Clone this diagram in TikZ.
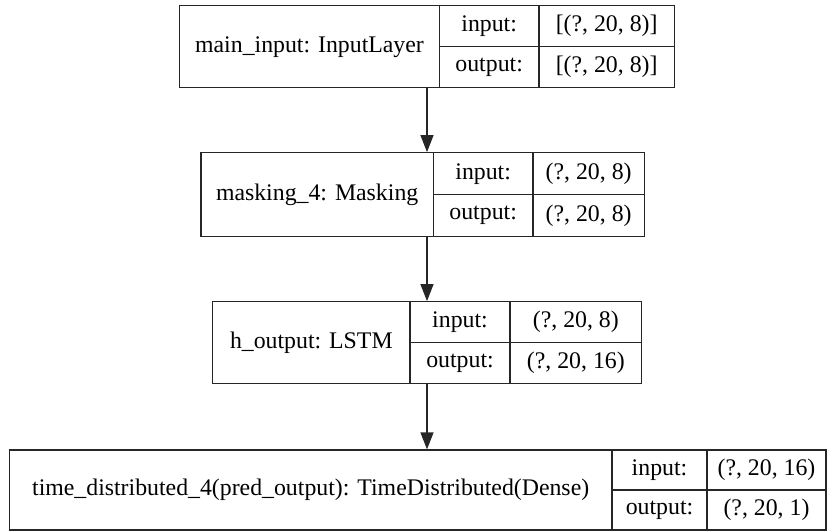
\documentclass[tikz,border=0pt]{standalone}
\usepackage{fontspec}
\setmainfont{Liberation Serif}
\usetikzlibrary{arrows.meta}
\begin{document}
\begin{tikzpicture}[x=1pt,y=-1pt,
  cell/.style={draw=black!85, line width=1.2pt, inner sep=0pt, font=\fontsize{23.8}{28}\selectfont},
  flow/.style={draw=black!85, line width=1.2pt, -{Triangle[length=17pt,width=13pt]}}]
\useasboundingbox (0,0) rectangle (836,531);
\coordinate (ax) at (427,0);

% main_input: InputLayer
\node[cell, minimum width=259.6pt, minimum height=82pt] (in) at (309.5,46.7) {main\_input: InputLayer};
\node[cell, minimum width=99.7pt, minimum height=41pt] (inI) at (489.15,26.2) {input:};
\node[cell, minimum width=135.3pt, minimum height=41pt] (inIv) at (606.65,26.2) {[(?, 20, 8)]};
\node[cell, minimum width=99.7pt, minimum height=41pt] (inO) at (489.15,67.2) {output:};
\node[cell, minimum width=135.3pt, minimum height=41pt] (inOv) at (606.65,67.2) {[(?, 20, 8)]};

% masking_4: Masking
\node[cell, minimum width=232.3pt, minimum height=84pt] (mask) at (317.15,194.7) {masking\_4: Masking};
\node[cell, minimum width=99.7pt, minimum height=42pt] (maskI) at (483.15,173.7) {input:};
\node[cell, minimum width=111.3pt, minimum height=42pt] (maskIv) at (588.65,173.7) {(?, 20, 8)};
\node[cell, minimum width=99.7pt, minimum height=42pt] (maskO) at (483.15,215.7) {output:};
\node[cell, minimum width=111.3pt, minimum height=42pt] (maskOv) at (588.65,215.7) {(?, 20, 8)};

% h_output: LSTM
\node[cell, minimum width=197.3pt, minimum height=81.6pt] (lstm) at (311.35,342.5) {h\_output: LSTM};
\node[cell, minimum width=100pt, minimum height=40.8pt] (lstmI) at (460,322.1) {input:};
\node[cell, minimum width=131.7pt, minimum height=40.8pt] (lstmIv) at (575.85,322.1) {(?, 20, 8)};
\node[cell, minimum width=100pt, minimum height=40.8pt] (lstmO) at (460,362.9) {output:};
\node[cell, minimum width=131.7pt, minimum height=40.8pt] (lstmOv) at (575.85,362.9) {(?, 20, 16)};

% time_distributed_4(pred_output): TimeDistributed(Dense)
\node[cell, minimum width=602.7pt, minimum height=80pt] (td) at (310.65,490) {time\_distributed\_4(pred\_output): TimeDistributed(Dense)};
\node[cell, minimum width=95pt, minimum height=40pt] (tdI) at (659.5,470) {input:};
\node[cell, minimum width=119pt, minimum height=40pt] (tdIv) at (766.5,470) {(?, 20, 16)};
\node[cell, minimum width=95pt, minimum height=40pt] (tdO) at (659.5,510) {output:};
\node[cell, minimum width=119pt, minimum height=40pt] (tdOv) at (766.5,510) {(?, 20, 1)};

% connectors between layers
\draw[flow] (in.south -| ax) -- (mask.north -| ax);
\draw[flow] (mask.south -| ax) -- (lstm.north -| ax);
\draw[flow] (lstm.south -| ax) -- (td.north -| ax);
\end{tikzpicture}
\end{document}
